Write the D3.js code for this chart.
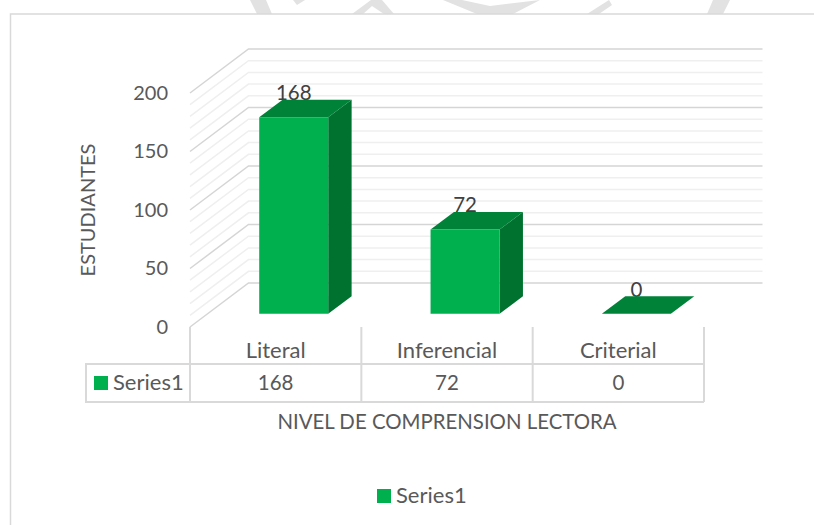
<!DOCTYPE html>
<html>
<head>
<meta charset="utf-8">
<script src="https://d3js.org/d3.v7.min.js"></script>
<style>
  html, body { margin: 0; padding: 0; background: #fff; }
  svg { display: block; }
  text { font-family: Lato, "Open Sans", sans-serif; fill: #595959; }
</style>
</head>
<body>
<div id="chart"></div>
<script>
// chart values
var categories = ["Literal", "Inferencial", "Criterial"];
var seriesName = "Series1";
var seriesValues = [168, 72, 0];
var yTicks = [0, 50, 100, 150, 200];
var minorTicks = d3.range(0, 201, 10);
var xTitle = "NIVEL DE COMPRENSION LECTORA";
var yTitle = "ESTUDIANTES";

var svgWidth = 814;
var svgHeight = 525;

var svg = d3.select("#chart")
  .append("svg")
  .attr("width", svgWidth)
  .attr("height", svgHeight);

// scanned page watermark, only the part above the chart frame shows
var watermark = svg.append("g").attr("fill", "#e2e2e2");
["M250,0 L266,0 L272,14 L257,14 Z",
 "M293,0 L305,0 L297,5 Z",
 "M352,14 L371,0 L382,0 L394,14 L384,14 L372,6 L363,14 Z",
 "M443,0 L462,0 L490,6 L540,0 L513,14 L477,14 Z",
 "M587,14 L609,0 L612,5 L599,14 Z",
 "M707,14 L713,0 L730,0 L723,14 Z"
].forEach(function(d) { watermark.append("path").attr("d", d); });

// frame of the chart
svg.append("path")
  .attr("d", "M10.5,525 V14 H814")
  .attr("fill", "#fff")
  .attr("stroke", "#d9d9d9")
  .attr("stroke-width", 1.5);

// the front plane of the 3d box, the back wall is that plane pushed by depth
var plot = { left: 190, right: 704, zero: 327, top: 93 };
var depth = { dx: 58.5, dy: -44 };

var xScale = d3.scaleBand()
  .domain(categories)
  .range([plot.left, plot.right]);

var yScale = d3.scaleLinear()
  .domain([0, 200])
  .range([plot.zero, plot.top]);

// point in the box: category edge x, value, z from 0 (front) to 1 (back)
function project(x, value, z) {
  return [x + depth.dx * z, yScale(value) + depth.dy * z];
}

var line = d3.line();

// gridlines, the minor ones first so the major ones sit on top
var grid = svg.append("g").attr("fill", "none");

grid.selectAll("path")
  .data(minorTicks.slice().sort(function(a, b) { return (a % 50 === 0) - (b % 50 === 0); }))
  .enter()
  .append("path")
  .attr("d", function(d) {
    return line([project(plot.left, d, 0), project(plot.left, d, 1), project(plot.right, d, 1)]);
  })
  .attr("stroke", function(d) { return d % 50 === 0 ? "#d5d5d5" : "#efefef"; })
  .attr("stroke-width", 1.5);

// y axis labels
var yAxis = svg.append("g")
  .attr("transform", "translate(" + plot.left + ",0)")
  .call(d3.axisLeft(yScale).tickValues(yTicks).tickSize(0).tickPadding(22));
yAxis.select(".domain").remove();
yAxis.selectAll("text")
  .style("font-family", "Lato, 'Open Sans', sans-serif")
  .attr("font-size", 20)
  .attr("fill", "#595959");

// data labels go under the bars, the bar tops clip them a little
var barZ = [0.3, 0.7];
var barWidth = 69;

function barX(d, i) {
  return xScale(categories[i]) + (xScale.bandwidth() - barWidth) / 2 + 0.5;
}

var labels = svg.append("g");
seriesValues.forEach(function(v, i) {
  var p = project(barX(v, i) + barWidth / 2, v, barZ[0]);
  labels.append("text")
    .attr("x", p[0])
    .attr("y", yScale(v) + depth.dy * barZ[1] + 0.5)
    .attr("text-anchor", "middle")
    .attr("font-size", 20.5)
    .style("fill", "#404040")
    .text(v);
});

// bars, three faces each
var bars = svg.append("g");
seriesValues.forEach(function(v, i) {
  var x0 = barX(v, i);
  var x1 = x0 + barWidth;
  var top = [project(x0, v, barZ[0]), project(x1, v, barZ[0]), project(x1, v, barZ[1]), project(x0, v, barZ[1])];
  var side = [project(x1, 0, barZ[0]), project(x1, v, barZ[0]), project(x1, v, barZ[1]), project(x1, 0, barZ[1])];
  var front = [project(x0, 0, barZ[0]), project(x1, 0, barZ[0]), project(x1, v, barZ[0]), project(x0, v, barZ[0])];

  bars.append("path").attr("d", line(side) + "Z").attr("fill", "#00722f");
  bars.append("path").attr("d", line(top) + "Z").attr("fill", "#008238");
  bars.append("path").attr("d", line(front) + "Z").attr("fill", "#00b04f");
});

// data table under the plot
var table = { left: 86, keyTop: 364, bottom: 402 };
var tableGroup = svg.append("g")
  .attr("stroke", "#d9d9d9")
  .attr("stroke-width", 2)
  .attr("fill", "none");

xScale.domain().concat(["end"]).forEach(function(c, i) {
  var x = plot.left + i * xScale.bandwidth();
  tableGroup.append("line")
    .attr("x1", x).attr("x2", x)
    .attr("y1", plot.zero).attr("y2", table.bottom);
});
tableGroup.append("path")
  .attr("d", line([[plot.right, table.keyTop], [table.left, table.keyTop], [table.left, table.bottom], [plot.right, table.bottom]]));

categories.forEach(function(c, i) {
  var cx = xScale(c) + xScale.bandwidth() / 2;
  svg.append("text")
    .attr("x", cx).attr("y", 358)
    .attr("text-anchor", "middle")
    .attr("font-size", 22)
    .text(c);
  svg.append("text")
    .attr("x", cx).attr("y", 390)
    .attr("text-anchor", "middle")
    .attr("font-size", 20.5)
    .text(seriesValues[i]);
});

// series key in the table
svg.append("rect")
  .attr("x", 94).attr("y", 376)
  .attr("width", 14).attr("height", 14)
  .attr("fill", "#00b04f");
svg.append("text")
  .attr("x", 113).attr("y", 390)
  .attr("font-size", 22)
  .text(seriesName);

// axis titles
svg.append("text")
  .attr("x", 447).attr("y", 429)
  .attr("text-anchor", "middle")
  .attr("font-size", 20.4)
  .text(xTitle);

svg.append("text")
  .attr("transform", "translate(95,210) rotate(-90)")
  .attr("text-anchor", "middle")
  .attr("font-size", 20)
  .text(yTitle);

// legend at the bottom
svg.append("rect")
  .attr("x", 377).attr("y", 489)
  .attr("width", 14).attr("height", 14)
  .attr("fill", "#00b04f");
svg.append("text")
  .attr("x", 396).attr("y", 503)
  .attr("font-size", 22)
  .text(seriesName);
</script>
</body>
</html>
